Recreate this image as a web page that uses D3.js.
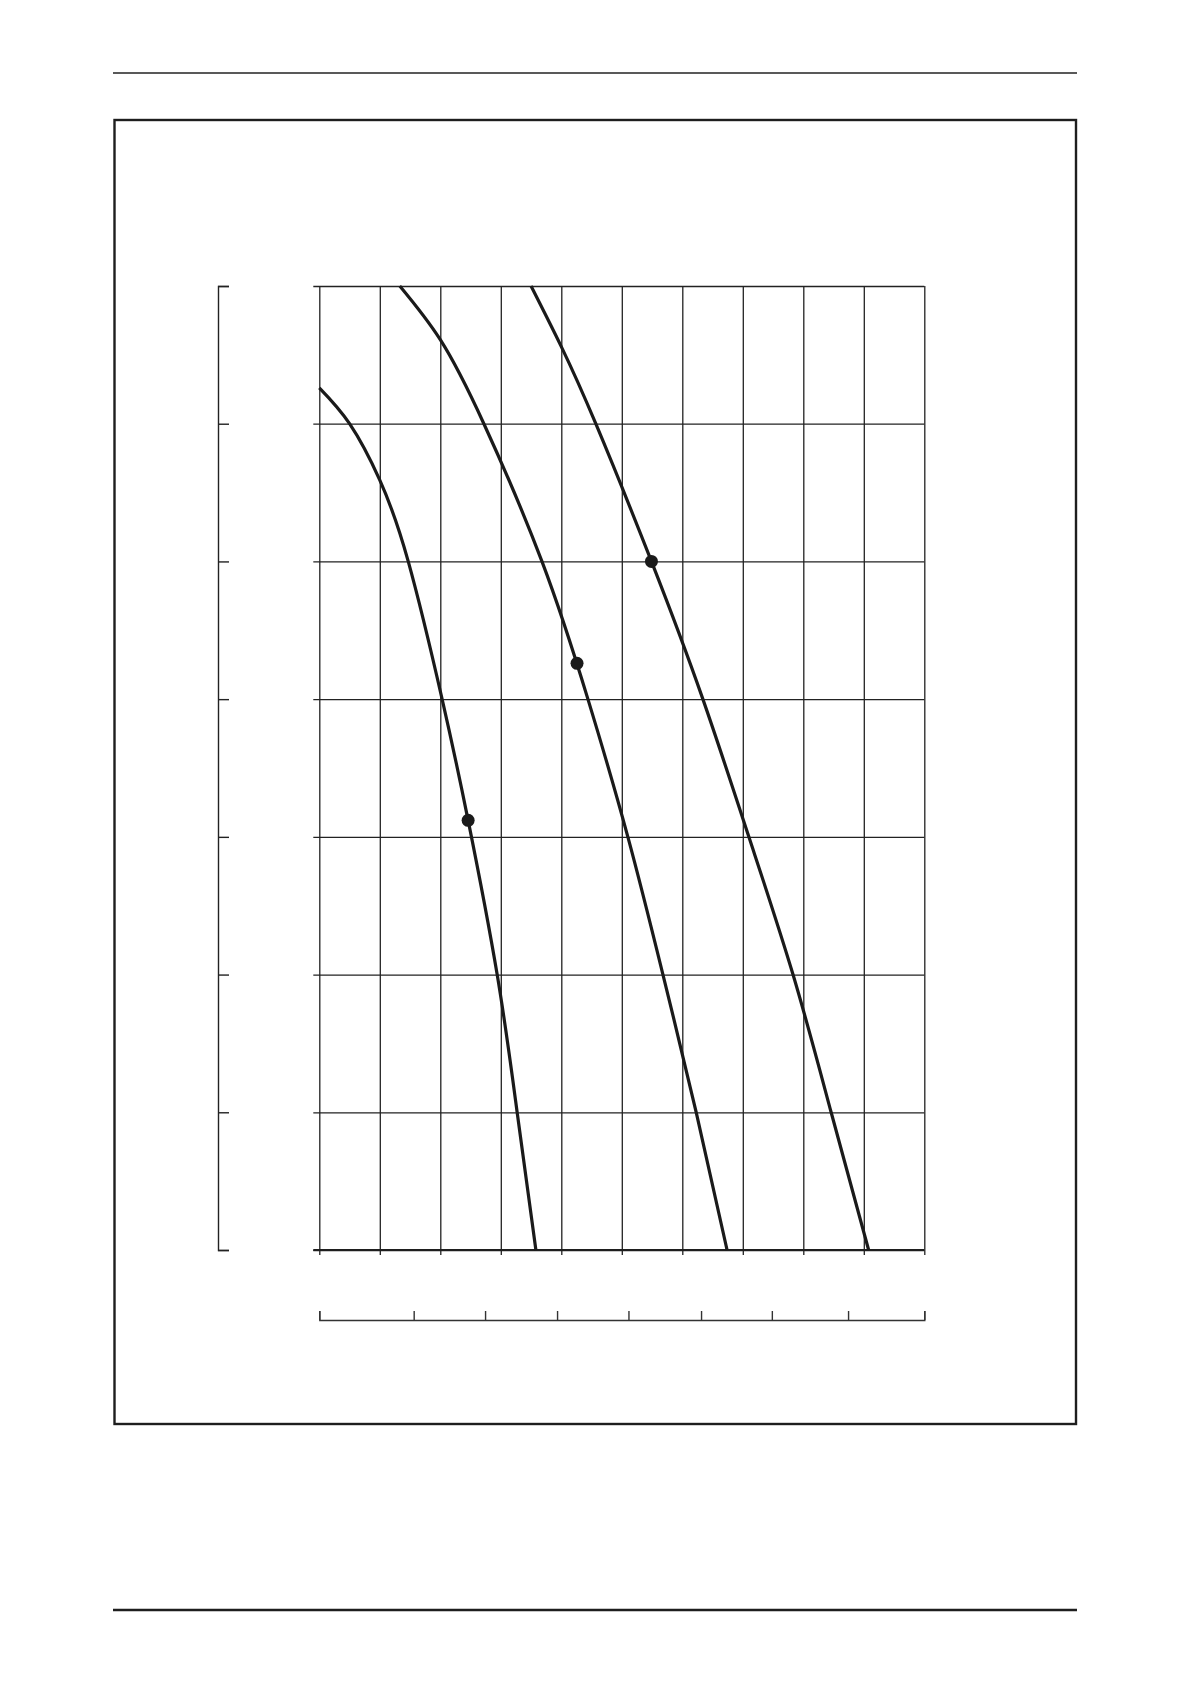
<!DOCTYPE html>
<html>
<head>
<meta charset="utf-8">
<script src="https://cdn.jsdelivr.net/npm/d3@7"></script>
<style>
  body { margin: 0; background: #fff; }
  .grid line { stroke: #222; stroke-width: 1.3; }
  .grid path { display: none; }
</style>
</head>
<body>
<div id="container"></div>
<script>
// grid: 10 columns x 7 rows, no labels on the sheet
const xTicks = d3.range(0, 11);
const yTicks = d3.range(0, 8);
// lower secondary scale (in the same units as the columns)
const secondaryTicks = [0, 1.56, 2.74, 3.93, 5.11, 6.31, 7.48, 8.74, 10];

// the three curves
const curveSmall = [[0, 6.26], [0.5, 6.0], [1, 5.59], [1.47, 5.0], [2.03, 4.0], [2.46, 3.12], [2.94, 2.0], [3.27, 1.0], [3.58, 0]];
const curveMedium = [[1.33, 7], [2, 6.61], [2.72, 6], [3.68, 5], [4.44, 4], [5.1, 3], [5.68, 2], [6.23, 1], [6.74, 0]];
const curveLarge = [[3.5, 7], [4, 6.56], [4.57, 6], [5.49, 5], [6.34, 4], [7.1, 3], [7.83, 2], [8.46, 1], [9.08, 0]];
// duty points
const dutyPoints = [[2.46, 3.12], [4.26, 4.26], [5.49, 5.0]];

const W = 1191, H = 1684;
const margin = { top: 286, left: 319.3 };
const width = 605, height = 964;

const svg = d3.select("#container").append("svg")
  .attr("width", W).attr("height", H);

// page header / footer rules and frame
svg.append("line").attr("x1", 113).attr("x2", 1077).attr("y1", 73).attr("y2", 73)
  .attr("stroke", "#222").attr("stroke-width", 1.5);
svg.append("rect").attr("x", 114.5).attr("y", 120).attr("width", 961.5).attr("height", 1304)
  .attr("fill", "none").attr("stroke", "#1e1e1e").attr("stroke-width", 2.4);
svg.append("line").attr("x1", 113).attr("x2", 1077).attr("y1", 1610).attr("y2", 1610)
  .attr("stroke", "#1e1e1e").attr("stroke-width", 2.6);

const g = svg.append("g").attr("transform", `translate(${margin.left},${margin.top})`);

const x = d3.scaleLinear().domain([0, 10]).range([0, width]);
const y = d3.scaleLinear().domain([0, 7]).range([height, 0]);

// horizontal grid lines, sticking out a little on the left
g.append("g").attr("class", "grid")
  .attr("transform", "translate(-6,0)")
  .call(d3.axisLeft(y).tickValues(yTicks).tickSize(-(width + 6)).tickFormat(""));

// vertical grid lines, sticking out a little below
g.append("g").attr("class", "grid")
  .attr("transform", `translate(0,${height + 5})`)
  .call(d3.axisBottom(x).tickValues(xTicks).tickSize(-(height + 5)).tickFormat(""));

// heavier base line
g.append("line").attr("x1", -6).attr("x2", width).attr("y1", height).attr("y2", height)
  .attr("stroke", "#1e1e1e").attr("stroke-width", 2.2);

// left bracket axis
const yAxis = svg.append("g").attr("transform", `translate(218,${margin.top})`)
  .call(d3.axisLeft(y).tickValues(yTicks).tickSize(-11).tickSizeOuter(-11).tickFormat(""));
yAxis.selectAll("path, line").attr("stroke", "#222").attr("stroke-width", 1.4);

// secondary bottom scale
const x2 = d3.scaleLinear().domain([0, 10]).range([0, width]);
const xAxis2 = svg.append("g").attr("transform", `translate(${margin.left},1320)`)
  .call(d3.axisBottom(x2).tickValues(secondaryTicks).tickSize(-9).tickSizeOuter(-9).tickFormat(""));
xAxis2.selectAll("path, line").attr("stroke", "#333").attr("stroke-width", 1.4);

// curves
const line = d3.line()
  .x(d => x(d[0]))
  .y(d => y(d[1]))
  .curve(d3.curveNatural);

g.selectAll(".curve")
  .data([curveSmall, curveMedium, curveLarge])
  .join("path")
  .attr("class", "curve")
  .attr("d", line)
  .attr("fill", "none")
  .attr("stroke", "#1a1a1a")
  .attr("stroke-width", 3.2);

g.selectAll(".duty")
  .data(dutyPoints)
  .join("circle")
  .attr("class", "duty")
  .attr("cx", d => x(d[0]))
  .attr("cy", d => y(d[1]))
  .attr("r", 6.5)
  .attr("fill", "#1a1a1a");
</script>
</body>
</html>
